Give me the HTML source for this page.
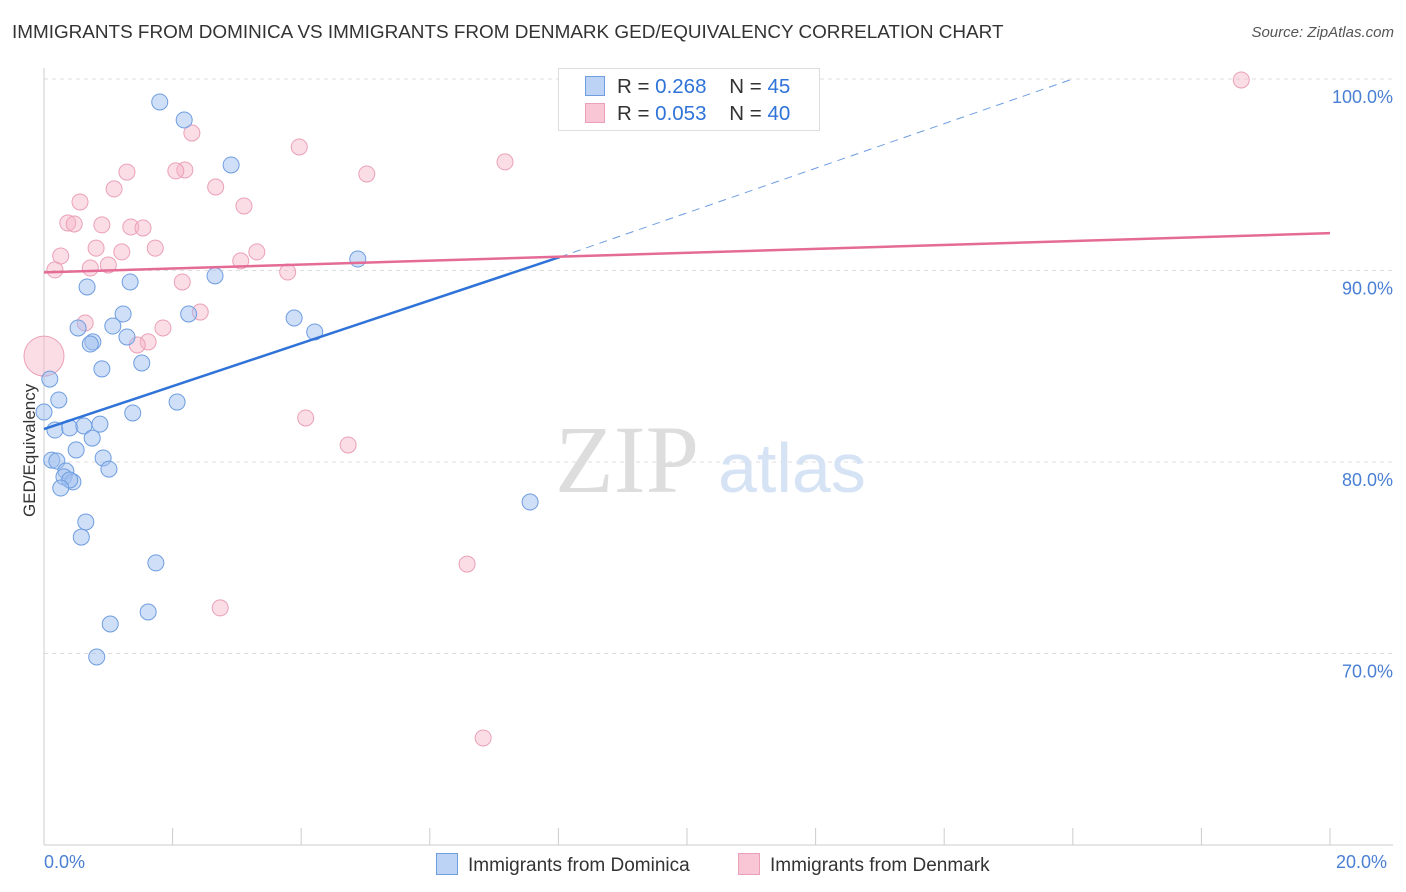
<!DOCTYPE html>
<html><head><meta charset="utf-8">
<style>
body{margin:0;background:#fff;font-family:"Liberation Sans",sans-serif;}
#wrap{position:relative;width:1406px;height:892px;overflow:hidden;}
.t{position:absolute;white-space:nowrap;}
</style></head>
<body>
<div id="wrap">
<div class="t" style="left:12px;top:22px;font-size:18.9px;color:#333;">IMMIGRANTS FROM DOMINICA VS IMMIGRANTS FROM DENMARK GED/EQUIVALENCY CORRELATION CHART</div>
<div class="t" style="right:12px;top:24px;font-size:15px;color:#555;font-style:italic;">Source: ZipAtlas.com</div>
<svg id="svg" width="1406" height="892" style="position:absolute;left:0;top:0"></svg>
</div>
<script>
const blueX=[1.80,2.18,2.91,4.88,2.66,1.34,0.67,1.23,2.25,3.89,1.07,0.53,4.21,1.29,0.76,0.72,1.52,0.90,0.09,0.23,2.07,1.38,0.00,0.87,0.17,0.40,0.62,0.75,0.50,0.92,0.12,0.20,1.01,0.34,0.31,0.45,0.40,0.26,7.56,0.65,0.58,1.74,1.62,1.03,0.82];
const blueY=[98.80,97.86,95.51,90.60,89.72,89.40,89.14,87.73,87.73,87.52,87.10,87.00,86.79,86.53,86.27,86.16,85.17,84.86,84.33,83.24,83.13,82.56,82.61,81.98,81.67,81.78,81.88,81.25,80.63,80.21,80.10,80.05,79.63,79.53,79.22,78.96,79.06,78.64,77.91,76.87,76.08,74.73,72.17,71.54,69.82];
const pinkX=[18.62,2.30,3.97,2.19,2.05,1.29,7.17,5.02,2.67,1.09,0.56,3.11,0.37,0.47,0.90,1.35,1.54,0.81,1.73,1.21,3.31,0.26,3.06,1.00,0.72,0.17,3.79,2.15,2.43,0.64,1.85,1.62,1.45,0.00,4.07,4.73,6.58,2.74,6.83];
const pinkY=[99.95,97.18,96.45,95.25,95.20,95.14,95.67,95.04,94.36,94.26,93.58,93.37,92.48,92.43,92.38,92.27,92.22,91.17,91.17,90.97,90.97,90.76,90.50,90.29,90.13,90.03,89.92,89.40,87.83,87.26,87.00,86.27,86.11,85.53,82.30,80.89,74.67,72.38,65.59];
const yTicks=[100,90,80,70];
const yTickLabels=["100.0%","90.0%","80.0%","70.0%"];
const blueTrend=[81.72,90.7,100]; const blueTrendX=[0,8.02,16.0];
const pinkTrend=[89.9,91.95]; const pinkTrendX=[0,20];

const X=v=>44+v*64.3, Y=v=>79+(100-v)*19.15;
const svg=document.getElementById('svg'), NS='http://www.w3.org/2000/svg';
function mk(tag,attrs,name){const e=document.createElementNS(NS,tag);for(const k in attrs)e.setAttribute(k,attrs[k]);


svg.appendChild(e);return e;}
yTicks.forEach((v,i)=>{
 mk('line',{x1:44,x2:1393,y1:Y(v),y2:Y(v),stroke:'#ddd','stroke-dasharray':'4,4'},'gridline');
 const t=mk('text',{x:1393,y:Y(v)+24,'text-anchor':'end','font-size':18,fill:'#4a7fd4','font-family':'Liberation Sans'},'y-tick-label');t.textContent=yTickLabels[i];
});
mk('line',{x1:44,x2:44,y1:68,y2:845,stroke:'#ccc'},'y-axis');
mk('line',{x1:44,x2:1393,y1:845,y2:845,stroke:'#ccc'},'x-axis');
for(let i=0;i<=10;i++){mk('line',{x1:X(i*2),x2:X(i*2),y1:828,y2:845,stroke:'#ccc'},'x-tick');}
let w=mk('text',{x:555,y:492,'font-size':96,fill:'#ddd','font-family':'Liberation Serif'},'watermark-zip');w.textContent='ZIP';
w=mk('text',{x:718,y:492,'font-size':70,fill:'#d5e3f5','font-family':'Liberation Sans'},'watermark-atlas');w.textContent='atlas';
pinkX.forEach((x,i)=>mk('circle',{cx:X(x),cy:Y(pinkY[i]),r:i==33?20:8,fill:'rgba(246,180,200,0.45)',stroke:'#eaa0b8','stroke-width':1},'pink-point'));
blueX.forEach((x,i)=>mk('circle',{cx:X(x),cy:Y(blueY[i]),r:8,fill:'rgba(160,192,240,0.5)',stroke:'#6e9de0','stroke-width':1},'blue-point'));
mk('line',{x1:X(blueTrendX[0]),y1:Y(blueTrend[0]),x2:X(blueTrendX[1]),y2:Y(blueTrend[1]),stroke:'#2f73d8','stroke-width':2.5},'blue-trend-line');
mk('line',{x1:X(blueTrendX[1]),y1:Y(blueTrend[1]),x2:X(blueTrendX[2]),y2:Y(blueTrend[2]),stroke:'#6e9de0','stroke-width':1,'stroke-dasharray':'8,6'},'blue-trend-extension');
mk('line',{x1:X(pinkTrendX[0]),y1:Y(pinkTrend[0]),x2:X(pinkTrendX[1]),y2:Y(pinkTrend[1]),stroke:'#e46b95','stroke-width':2.5},'pink-trend-line');
</script>
<div class="t" style="left:-30px;top:447px;font-size:17px;color:#333;transform:rotate(-90deg);transform-origin:center;width:120px;text-align:center;">GED/Equivalency</div>
<div class="t" style="left:44px;top:852px;font-size:18px;color:#4a7fd4;">0.0%</div>
<div class="t" style="left:1336px;top:852px;font-size:18px;color:#4a7fd4;">20.0%</div>
<div style="position:absolute;left:558px;top:68px;width:260px;height:61px;border:1px solid #ddd;background:#fff;font-size:20.5px;">
 <div style="position:absolute;left:26px;top:6px;white-space:nowrap;"><span style="display:inline-block;width:18px;height:18px;background:#bcd3f5;border:1px solid #6e9de0;vertical-align:-3px;margin-right:12px"></span><span style="color:#333">R = </span><span style="color:#2f73d8">0.268</span><span style="color:#333">&nbsp;&nbsp;&nbsp; N = </span><span style="color:#2f73d8">45</span></div>
 <div style="position:absolute;left:26px;top:33px;white-space:nowrap;"><span style="display:inline-block;width:18px;height:18px;background:#f9c6d5;border:1px solid #eaa0b8;vertical-align:-3px;margin-right:12px"></span><span style="color:#333">R = </span><span style="color:#2f73d8">0.053</span><span style="color:#333">&nbsp;&nbsp;&nbsp; N = </span><span style="color:#2f73d8">40</span></div>
</div>
<div class="t" style="left:436px;top:853px;font-size:19px;color:#333;"><span style="display:inline-block;width:20px;height:20px;background:#bcd3f5;border:1px solid #6e9de0;vertical-align:-4px;margin-right:10px"></span>Immigrants from Dominica</div>
<div class="t" style="left:738px;top:853px;font-size:19px;color:#333;"><span style="display:inline-block;width:20px;height:20px;background:#f9c6d5;border:1px solid #eaa0b8;vertical-align:-4px;margin-right:10px"></span>Immigrants from Denmark</div>
</body></html>
